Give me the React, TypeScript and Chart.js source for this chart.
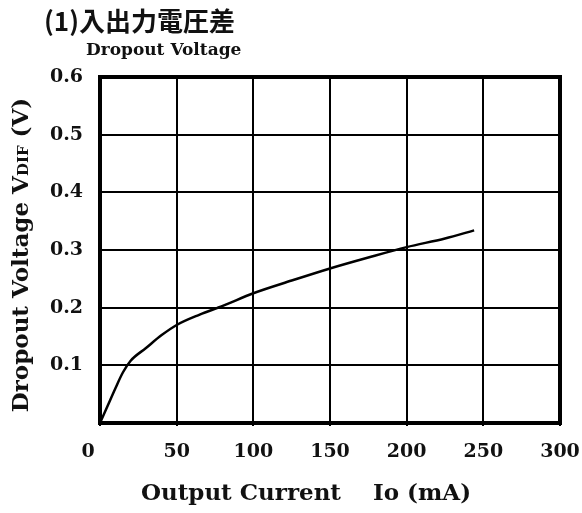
import React, { useEffect, useRef } from "react";
import { Chart, registerables } from "chart.js";

Chart.register(...registerables);

// Data
const currentMA = [0, 5, 10, 15, 20, 30, 40, 50, 65, 80, 100, 125, 150, 175, 200, 225, 244];
const dropoutV = [0, 0.03, 0.06, 0.088, 0.108, 0.13, 0.152, 0.17, 0.188, 0.203, 0.225, 0.247, 0.268, 0.287, 0.305, 0.32, 0.334];
const xTickValues = [0, 50, 100, 150, 200, 250, 300];
const yTickValues = [0.1, 0.2, 0.3, 0.4, 0.5, 0.6];

const titleText = "(1)入出力電圧差";
const subtitleText = "Dropout Voltage";
const xTitleText = "Output Current    Io (mA)";
const yTitleMain = "Dropout Voltage V";
const yTitleSub = "DIF";
const yTitleTail = " (V)";

const SERIF = '"DejaVu Serif", "Liberation Serif", serif';

const decorPlugin = {
  id: "decor",
  afterDraw(chart: any) {
    const ctx = chart.ctx as CanvasRenderingContext2D;
    const area = chart.chartArea;
    const xs = chart.scales.x;
    ctx.save();
    // frame
    ctx.strokeStyle = "#000";
    ctx.lineWidth = 4;
    ctx.strokeRect(area.left, area.top, area.right - area.left, area.bottom - area.top);

    ctx.fillStyle = "#111";
    // title
    ctx.textBaseline = "middle";
    ctx.textAlign = "left";
    ctx.font = '700 26px "Noto Sans CJK JP", sans-serif';
    ctx.fillText(titleText, 44, 21);
    ctx.font = `bold 17px ${SERIF}`;
    ctx.fillText(subtitleText, 86, 51);

    // x tick labels
    ctx.font = `bold 19px ${SERIF}`;
    ctx.textAlign = "center";
    xTickValues.forEach((v) => {
      const px = xs.getPixelForValue(v) + (v === 0 ? -12 : 0);
      ctx.fillText(String(v), px, 452);
    });

    // x title
    ctx.font = `bold 23px ${SERIF}`;
    ctx.fillText(xTitleText, 306, 494);

    // y title (rotated, with subscript)
    ctx.translate(22, 255);
    ctx.rotate(-Math.PI / 2);
    const mainFont = `bold 23px ${SERIF}`;
    const subFont = `bold 15px ${SERIF}`;
    ctx.font = mainFont;
    const w1 = ctx.measureText(yTitleMain).width;
    const w3 = ctx.measureText(yTitleTail).width;
    ctx.font = subFont;
    const w2 = ctx.measureText(yTitleSub).width;
    let x = -(w1 + w2 + w3) / 2;
    ctx.textAlign = "left";
    ctx.font = mainFont;
    ctx.fillText(yTitleMain, x, 0);
    x += w1;
    ctx.font = subFont;
    ctx.fillText(yTitleSub, x, 2);
    x += w2;
    ctx.font = mainFont;
    ctx.fillText(yTitleTail, x, 0);
    ctx.restore();
  },
};

export default function App() {
  const ref = useRef<HTMLCanvasElement | null>(null);
  useEffect(() => {
    document.body.style.margin = "0";
    const canvas = ref.current;
    if (!canvas) return;
    const chart = new Chart(canvas, {
      type: "line",
      data: {
        datasets: [
          {
            data: currentMA.map((x, i) => ({ x, y: dropoutV[i] })),
            borderColor: "#000",
            borderWidth: 2.5,
            pointRadius: 0,
            cubicInterpolationMode: "monotone",
            fill: false,
          },
        ],
      },
      options: {
        animation: false,
        responsive: false,
        maintainAspectRatio: false,
        layout: { padding: { left: 0, top: 77, right: 22, bottom: 0 } },
        plugins: { legend: { display: false }, tooltip: { enabled: false }, title: { display: false } },
        scales: {
          x: {
            type: "linear",
            min: 0,
            max: 300,
            afterBuildTicks: (s: any) => {
              s.ticks = xTickValues.map((v) => ({ value: v }));
            },
            ticks: { display: false },
            grid: { color: "#000", lineWidth: 2, drawTicks: true, tickLength: 3, tickColor: "#000" },
            border: { display: true, color: "#000", width: 4 },
            afterFit: (s: any) => {
              s.height = 90;
            },
          },
          y: {
            type: "linear",
            min: 0,
            max: 0.6,
            afterBuildTicks: (s: any) => {
              s.ticks = [0, ...yTickValues].map((v) => ({ value: v }));
            },
            ticks: {
              color: "#111",
              padding: 17,
              font: { family: SERIF, size: 19, weight: "bold" },
              callback: (v: any) => (Number(v) === 0 ? "" : Number(v).toFixed(1)),
            },
            grid: { color: "#000", lineWidth: 2, drawTicks: false },
            border: { display: true, color: "#000", width: 4 },
            afterFit: (s: any) => {
              s.width = 100;
            },
          },
        },
      } as any,
      plugins: [decorPlugin],
    });
    return () => chart.destroy();
  }, []);
  return (
    <div style={{ width: 582, height: 513, background: "#fff" }}>
      <canvas ref={ref} width={582} height={513} style={{ display: "block" }} />
    </div>
  );
}
